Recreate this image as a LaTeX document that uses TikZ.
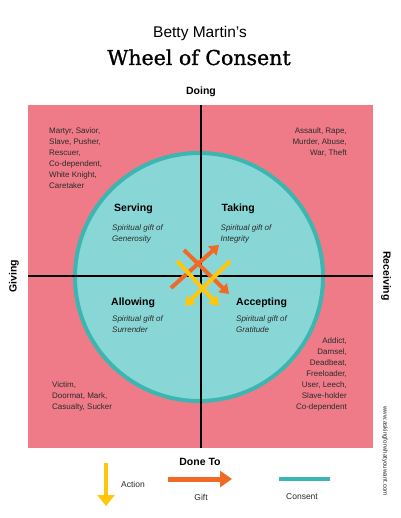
\documentclass[tikz,border=0pt]{standalone}
\usepackage{fontspec}
\setmainfont{Liberation Sans}
\newfontfamily\wheelfont[FakeBold=1.2]{DejaVu Serif}
\usetikzlibrary{arrows.meta}
\definecolor{wheelpink}{HTML}{EE7B87}
\definecolor{ringteal}{HTML}{3BB6B0}
\definecolor{innerteal}{HTML}{88D7D6}
\definecolor{giftorange}{HTML}{F06A25}
\definecolor{actionyellow}{HTML}{FFC60B}
\definecolor{darktext}{HTML}{2B2B2B}

\begin{document}
\begin{tikzpicture}[x=1pt,y=-1pt,>={Triangle[length=9pt,width=12pt]},
    harm/.style={font=\fontsize{8}{11}\selectfont,text=darktext,inner sep=0pt},
    quad/.style={font=\fontsize{10.5}{12}\selectfont\bfseries,inner sep=0pt,anchor=north west},
    gift/.style={font=\fontsize{8}{11.5}\selectfont\itshape,text=darktext,inner sep=0pt,anchor=north west,align=left},
    axis/.style={font=\fontsize{10.5}{12}\selectfont\bfseries,inner sep=0pt},
    legend/.style={font=\fontsize{8.5}{10}\selectfont,text=darktext,inner sep=0pt}]
    % page
    \fill[white] (0,0) rectangle (400,518);
    \useasboundingbox (0,0) rectangle (400,518);

    % title
    \node[font=\fontsize{15.5}{18}\selectfont,anchor=base,inner sep=0pt] (author) at (200,37.7) {Betty Martin's};
    \node[font=\wheelfont\fontsize{20.5}{24}\selectfont,anchor=base,inner sep=0pt] (title) at (199,65) {Wheel of Consent};

    % pink square and the wheel
    \fill[wheelpink] (28,105) rectangle (373,448);
    \draw[ringteal,fill=innerteal,line width=4pt] (199,277) circle(124);

    % the two axes
    \coordinate (top) at (201,105);
    \coordinate (bottom) at (201,448);
    \coordinate (left) at (28,276);
    \coordinate (right) at (373,276);
    \draw[line width=2pt] (top) -- (bottom);
    \draw[line width=2pt] (left) -- (right);

    % axis labels
    \node[axis,anchor=base] (doing) at (201,95) {Doing};
    \node[axis,anchor=base] (doneto) at (200,465) {Done To};
    \node[axis,rotate=90] (giving) at (14,276) {Giving};
    \node[axis,rotate=-90] (receiving) at (386,276) {Receiving};
    \node[font=\fontsize{6.2}{7}\selectfont,text=darktext,rotate=-90,inner sep=0pt] (web) at (385,451) {www.askingforwhatyouwant.com};

    % shadow sides
    \node[harm,anchor=north west,align=left] (servingshadow) at (49,128) {Martyr, Savior,\\Slave, Pusher,\\Rescuer,\\Co-dependent,\\White Knight,\\Caretaker};
    \node[harm,anchor=north east,align=right] (takingshadow) at (347,128) {Assault, Rape,\\Murder, Abuse,\\War, Theft};
    \node[harm,anchor=north west,align=left] (allowingshadow) at (52,381) {Victim,\\Doormat, Mark,\\Casualty, Sucker};
    \node[harm,anchor=north east,align=right] (acceptingshadow) at (347,337.5) {Addict,\\Damsel,\\Deadbeat,\\Freeloader,\\User, Leech,\\Slave-holder\\Co-dependent};

    % quadrants
    \node[quad] (serving) at (114,203.5) {Serving};
    \node[gift] (servinggift) at (112,224.5) {Spiritual gift of\\Generosity};
    \node[quad] (taking) at (221.5,203.5) {Taking};
    \node[gift] (takinggift) at (220.5,224.5) {Spiritual gift of\\Integrity};
    \node[quad] (allowing) at (111,297.5) {Allowing};
    \node[gift] (allowinggift) at (112,315.5) {Spiritual gift of\\Surrender};
    \node[quad] (accepting) at (236,297.5) {Accepting};
    \node[gift] (acceptinggift) at (236,315.5) {Spiritual gift of\\Gratitude};

    % gift arrows
    \coordinate (og1) at (171,288);
    \coordinate (og2) at (219,245);
    \coordinate (og3) at (184,250);
    \coordinate (og4) at (229,294);
    \draw[giftorange,line width=4pt,->] (og1) -- (og2);
    \draw[giftorange,line width=4pt,->] (og3) -- (og4);

    % action arrows
    \coordinate (ya1) at (177,261);
    \coordinate (ya2) at (219,306);
    \coordinate (ya3) at (230,261);
    \coordinate (ya4) at (185,306);
    \draw[actionyellow,line width=4pt,->] (ya1) -- (ya2);
    \draw[actionyellow,line width=4pt,->] (ya3) -- (ya4);

    % legend
    \coordinate (actiontop) at (106,463);
    \coordinate (actiontip) at (106,506);
    \draw[actionyellow,line width=4.3pt,-{Triangle[length=11pt,width=17pt]}] (actiontop) -- (actiontip);
    \node[legend] (action) at (133,484) {Action};
    \coordinate (giftstart) at (168,479);
    \coordinate (giftend) at (232,479);
    \draw[giftorange,line width=5pt,-{Triangle[length=12pt,width=16pt]}] (giftstart) -- (giftend);
    \node[legend] (giftlabel) at (201,497) {Gift};
    \coordinate (consentstart) at (279,479);
    \coordinate (consentend) at (330,479);
    \draw[ringteal,line width=4pt] (consentstart) -- (consentend);
    \node[legend] (consent) at (302,497) {Consent};
\end{tikzpicture}
\end{document}
